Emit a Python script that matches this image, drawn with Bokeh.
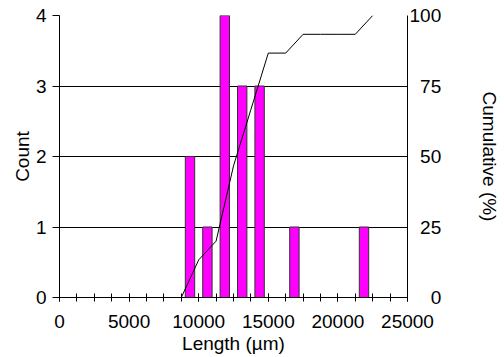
import numpy as np
from bokeh.plotting import figure
from bokeh.models import Range1d, LinearAxis, FixedTicker, ColumnDataSource, Grid
from bokeh.embed import file_html
from bokeh.resources import INLINE

# Histogram bins (µm) and counts
bin_left = [8750, 10000, 11250, 12500, 13750, 15000, 16250, 17500, 18750, 20000, 21250]
bin_width = 1250
counts = [2, 1, 4, 3, 3, 0, 1, 0, 0, 0, 1]

x_ticks = [0, 5000, 10000, 15000, 20000, 25000]
x_minor = list(range(0, 25001, 1250))
count_ticks = [0, 1, 2, 3, 4]
pct_ticks = [0, 25, 50, 75, 100]

FONT = "Liberation Sans"
FS = "19px"
FIG_SPACE = "\u2007"

centers = [l + bin_width / 2 for l in bin_left]
bars = ColumnDataSource(dict(
    x=[c for c, n in zip(centers, counts) if n > 0],
    top=[n for n in counts if n > 0],
))
total = sum(counts)
cum_x = [bin_left[0]] + [l + bin_width for l in bin_left]
cum_y = [0] + list(np.cumsum(counts) / total * 100)

p = figure(width=504, height=357, output_backend="svg", toolbar_location=None,
           x_range=Range1d(0, 25000), y_range=Range1d(0, 4),
           x_axis_type=None, y_axis_type=None,
           min_border_left=59, min_border_right=97, min_border_top=15, min_border_bottom=60)
p.extra_y_ranges = {"cum": Range1d(0, 100)}
p.outline_line_color = None
p.background_fill_color = "white"
p.border_fill_color = "white"

# bottom axis
xa = LinearAxis(ticker=FixedTicker(ticks=x_ticks, minor_ticks=x_minor))
xa.axis_label = "Length (µm)"
xa.major_tick_in = 4
xa.major_tick_out = 4
xa.minor_tick_in = 4
xa.minor_tick_out = 4
xa.major_label_standoff = 13
xa.axis_label_standoff = 2
p.add_layout(xa, "below")

# left axis
ya = LinearAxis(ticker=FixedTicker(ticks=count_ticks))
ya.axis_label = "Count"
ya.major_tick_in = 0
ya.major_tick_out = 7
ya.minor_tick_in = 0
ya.minor_tick_out = 0
ya.major_label_standoff = 6
ya.axis_label_standoff = 0
p.add_layout(ya, "left")

# right axis (labels right-aligned by padding with figure spaces)
width_max = max(len(str(t)) for t in pct_ticks)
ra = LinearAxis(y_range_name="cum", ticker=FixedTicker(ticks=pct_ticks))
ra.major_label_overrides = {t: FIG_SPACE * (width_max - len(str(t))) + str(t) for t in pct_ticks}
ra.axis_label = "Cumulative (%)"
ra.major_tick_in = 0
ra.major_tick_out = 0
ra.minor_tick_in = 0
ra.minor_tick_out = 0
ra.major_label_standoff = 2
ra.axis_label_standoff = 35
p.add_layout(ra, "right")

for ax in (xa, ya, ra):
    ax.axis_line_color = "black"
    ax.major_tick_line_color = "black"
    ax.minor_tick_line_color = "black"
    ax.major_label_text_font = FONT
    ax.major_label_text_font_size = FS
    ax.major_label_text_color = "black"
    ax.axis_label_text_font = FONT
    ax.axis_label_text_font_size = FS
    ax.axis_label_text_font_style = "normal"
    ax.axis_label_text_color = "black"

g = Grid(dimension=1, ticker=FixedTicker(ticks=count_ticks))
g.grid_line_color = "black"
g.grid_line_width = 1
p.add_layout(g)

p.vbar(x="x", top="top", bottom=0, width=675, source=bars,
       fill_color="#FF00FF", line_color="#333333", line_width=1)
p.line(cum_x, cum_y, y_range_name="cum", line_color="black", line_width=1)

open("out.html", "w").write(file_html(p, INLINE))
